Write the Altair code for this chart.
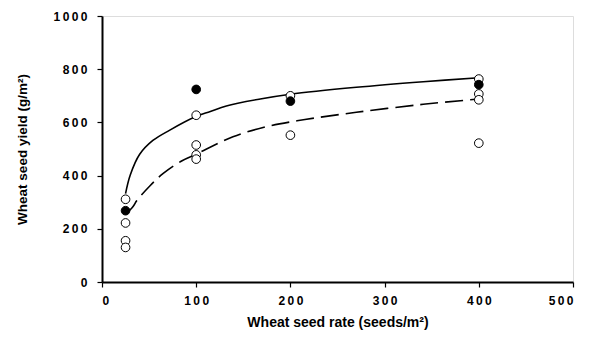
import altair as alt
import pandas as pd

open_x = [25, 25, 25, 25, 100, 100, 100, 100, 200, 200, 400, 400, 400, 400]
open_y = [311, 222, 155, 130, 627, 515, 478, 462, 700, 552, 763, 707, 685, 522]
filled_x = [25, 100, 200, 400]
filled_y = [268, 724, 680, 742]

# Fitted curves
solid_x = [25, 30, 40, 54, 72, 99, 115, 132, 168, 200, 270, 341, 400]
solid_y = [332, 402, 480, 532, 571, 621, 641, 662, 688, 706, 732, 753, 768]
dash_x = [25, 33, 37, 51, 65, 85, 99, 111, 139, 171, 207, 270, 341, 400]
dash_y = [255, 284, 306, 362, 408, 456, 479, 500, 546, 581, 606, 638, 668, 688]

open_df = pd.DataFrame({"x": open_x, "y": open_y})
filled_df = pd.DataFrame({"x": filled_x, "y": filled_y})
solid_df = pd.DataFrame({"x": solid_x, "y": solid_y})
dash_df = pd.DataFrame({"x": dash_x, "y": dash_y})

spaced = "join(split(format(datum.value, 'd'), ''), '\u2009')"

common = dict(
    grid=False,
    domainColor="black",
    domainWidth=2,
    tickColor="black",
    tickWidth=1.2,
    tickSize=5,
    labelFont="Liberation Sans",
    labelFontWeight="bold",
    labelFontSize=12,
    labelColor="black",
    titleFont="Liberation Sans",
    titleFontWeight="bold",
    titleColor="black",
    format="d",
    labelExpr=spaced,
)

xenc = alt.X(
    "x:Q",
    scale=alt.Scale(domain=[0, 500], nice=False, zero=True),
    axis=alt.Axis(
        values=[0, 100, 200, 300, 400, 500],
        title="Wheat seed rate (seeds/m²)",
        titleFontSize=14,
        titleY=40,
        titleBaseline="middle",
        labelPadding=8,
        **common,
    ),
)
yenc = alt.Y(
    "y:Q",
    scale=alt.Scale(domain=[0, 1000], nice=False),
    axis=alt.Axis(
        values=[0, 200, 400, 600, 800, 1000],
        title="Wheat seed yield (g/m²)",
        titleFontSize=13.5,
        titleX=-80,
        titleY=133,
        titleAngle=-90,
        titleAlign="center",
        titleBaseline="middle",
        labelPadding=10,
        **common,
    ),
)

solid = alt.Chart(solid_df).mark_line(
    color="black", strokeWidth=1.6, interpolate="catmull-rom"
).encode(x=xenc, y=yenc)

dashed = alt.Chart(dash_df).mark_line(
    color="black", strokeWidth=1.6, interpolate="catmull-rom", strokeDash=[18, 7]
).encode(x=xenc, y=yenc)

opens = alt.Chart(open_df).mark_point(
    shape="circle", filled=True, fill="white", stroke="black",
    strokeWidth=1, size=75, opacity=1
).encode(x=xenc, y=yenc)

fills = alt.Chart(filled_df).mark_point(
    shape="circle", filled=True, fill="black", stroke="black",
    strokeWidth=1, size=75, opacity=1
).encode(x=xenc, y=yenc)

chart = alt.layer(solid, dashed, opens, fills).properties(
    width=471,
    height=266,
    padding={"left": 102, "top": 16, "right": 20, "bottom": 59},
    autosize=alt.AutoSizeParams(type="none"),
).configure_view(
    stroke=None
).configure(background="white")

chart.save("out.html", embed_options={"renderer": "svg", "actions": False})
